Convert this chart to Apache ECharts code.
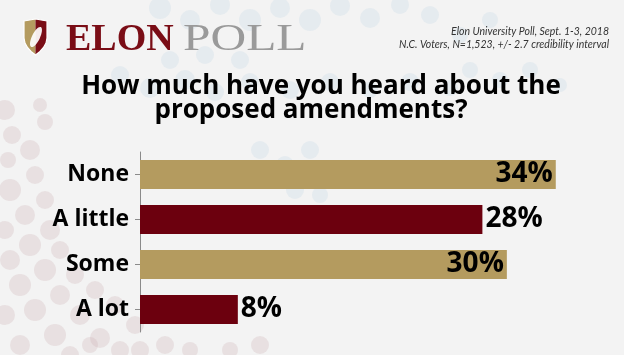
<!DOCTYPE html>
<html><head><meta charset="utf-8">
<script src="https://cdn.jsdelivr.net/npm/echarts@6/dist/echarts.min.js"></script>
<style>html,body{margin:0;padding:0;background:#f3f3f3}#c{width:624px;height:355px}</style>
</head><body><div id="c"></div>
<script>
var categories = ['None', 'A little', 'Some', 'A lot'];
var values = [34, 28, 30, 8];
var titleLines = ['How much have you heard about the', 'proposed amendments?'];
var sourceLines = ['Elon University Poll, Sept. 1-3, 2018', 'N.C. Voters, N=1,523, +/- 2.7 credibility interval'];

var GOLD = '#b49b5f', RED = '#6c000e';
var FONT = '"Open Sans", Lato, sans-serif';

// decorative background dots
var dots = [];
function dot(x, y, r, c) { dots.push({type:'circle', silent:true, z:-10, shape:{cx:x, cy:y, r:r}, style:{fill:c}}); }
var P = 'rgba(205,175,180,0.28)', B = 'rgba(175,205,225,0.2)';
[[5,110,10],[12,135,9],[30,150,10],[8,160,8],[35,175,9],[10,190,11],[45,200,9],[25,215,10],[5,230,9],[50,230,10],
 [30,245,11],[60,250,9],[10,260,10],[45,270,11],[75,275,9],[20,285,11],[60,295,10],[95,290,9],[35,310,11],[5,315,10],
 [80,315,10],[115,305,9],[55,335,11],[20,345,10],[100,338,10],[135,325,9],[140,350,9],[165,345,9],[190,350,8],[120,350,9],
 [45,122,8],[40,105,7],[90,345,8],[70,355,9],[230,350,8],[260,345,9]].forEach(function(a){dot(a[0],a[1],a[2],P);});
[[160,8,11],[190,20,10],[220,5,10],[250,20,11],[280,8,10],[310,20,11],[340,6,10],[370,18,10],[400,5,9],[430,15,9],
 [120,75,9],[150,88,10],[185,80,10],[215,92,9],[250,82,9],[290,90,9],[330,82,9],[370,90,8],[410,82,9],[450,88,8],
 [170,60,9],[205,55,9],[240,60,9],[470,70,8],[500,80,8],[530,70,8],[560,85,7],
 [260,150,9],[285,165,9],[310,150,9],[330,170,9],[295,190,9],[320,195,8],[460,35,8],[490,20,8]].forEach(function(a){dot(a[0],a[1],a[2],B);});

// logo
var shieldL = [[24,21],[35.5,19],[35.5,55],[31,51.5],[27.5,47.5],[25,43],[24,38]];
var shieldR = [[35.5,19],[47,21],[47,38],[46,43],[43.5,47.5],[40,51.5],[35.5,55]];
var shieldAll = [[24,21],[35.5,19],[47,21],[47,38],[46,43],[43.5,47.5],[40,51.5],[35.5,55],[31,51.5],[27.5,47.5],[25,43],[24,38]];
var logo = [
  {type:'polygon', silent:true, shape:{points:shieldL}, style:{fill:GOLD}},
  {type:'polygon', silent:true, shape:{points:shieldR}, style:{fill:'#7a0d16'}},
  {type:'polygon', silent:true, shape:{points:shieldAll}, style:{fill:'none', stroke:'#ffffff', lineWidth:1.2}},
  {type:'ellipse', silent:true, shape:{cx:36, cy:37, rx:4, ry:11}, rotation:-0.45, originX:36, originY:37, style:{fill:'#ffffff', opacity:0.92}},
  {type:'text', silent:true, style:{x:66, y:59, verticalAlign:'bottom', text:'ELON', font:'bold 38px "Liberation Serif", "DejaVu Serif", serif', fill:'#7a0d16'}},
  {type:'text', silent:true, scaleX:1.3, originX:183, style:{x:183, y:59, verticalAlign:'bottom', text:'POLL', font:'38px "Liberation Serif", "DejaVu Serif", serif', fill:'#9a9a9a'}}
];

var title = [
  {type:'text', silent:true, style:{x:321, y:74, text:titleLines[0], font:'bold 26px ' + FONT, fill:'#000', align:'center'}},
  {type:'text', silent:true, style:{x:311, y:98, text:titleLines[1], font:'bold 26px ' + FONT, fill:'#000', align:'center'}}
];
var source = [
  {type:'text', silent:true, style:{x:609, y:25, text:sourceLines.join('\n'), font:'italic 10.5px Lato, "Open Sans", sans-serif', fill:'#333', align:'right', lineHeight:13}}
];

var chart = echarts.init(document.getElementById('c'));
chart.setOption({
  backgroundColor: '#f3f3f3',
  animation: false,
  graphic: dots.concat(logo, title, source),
  grid: {left:140, top:152, width:428, height:180},
  xAxis: {type:'value', min:0, max:35, show:false},
  yAxis: {
    type:'category', data:categories, inverse:true,
    axisLine:{show:true, lineStyle:{color:'#8a8a8a', width:1}},
    axisTick:{show:true, alignWithLabel:true, length:5, lineStyle:{color:'#8a8a8a'}},
    axisLabel:{color:'#000', fontFamily:FONT, fontWeight:'bold', fontSize:23, margin:11}
  },
  series: [{
    type:'bar', barWidth:29,
    data: values.map(function(v, i){
      return {value:v, itemStyle:{color: i % 2 === 0 ? GOLD : RED},
              label:{position: v >= 30 ? 'insideRight' : 'right', distance:3}};
    }),
    label:{show:true, formatter:'{c}%', color:'#000', fontFamily:FONT, fontWeight:'bold', fontSize:28}
  }]
});
</script></body></html>
